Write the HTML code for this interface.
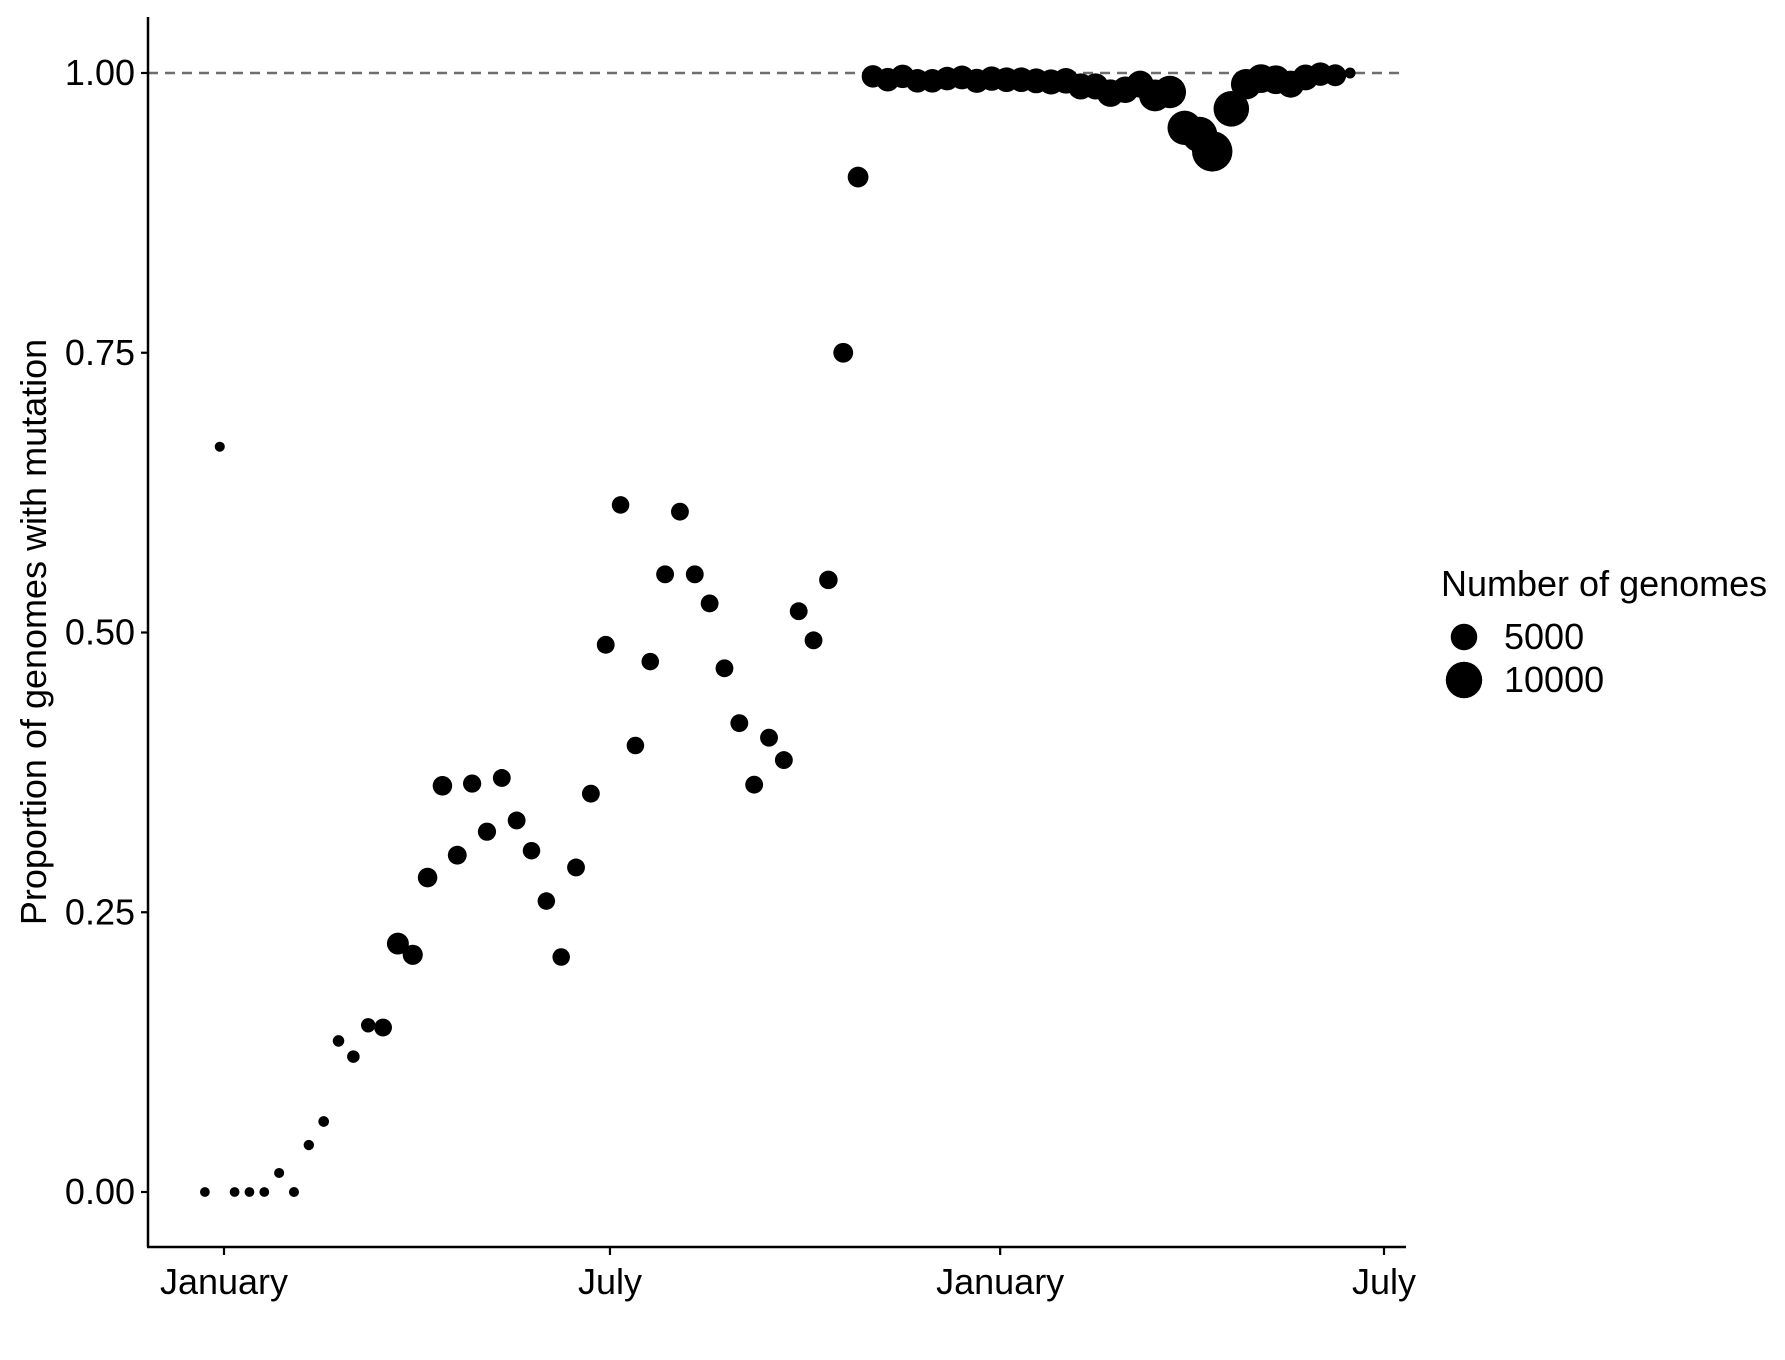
<!DOCTYPE html>
<html><head><meta charset="utf-8"><style>
body{margin:0;background:#fff;}
svg{display:block;font-family:"Liberation Sans",Arial,sans-serif;}
</style></head><body>
<svg id="chart" width="1785" height="1360" viewBox="0 0 1785 1360">
<g id="axes"></g>
<g id="marks"></g>
<g id="legend"></g>
</svg>
<script>
const days = [-9,-2,5,12,19,26,33,40,47,54,61,68,75,82,89,96,103,110,117,124,131,138,145,152,159,166,173,180,187,194,201,208,215,222,229,236,243,250,257,264,271,278,285,292,299,
306,313,320,327,334,341,348,355,362,369,376,383,390,397,404,411,418,425,432,439,446,453,460,466,475,482,489,496,503,510,517,524,531];
const props = [0,0.666,0,0,0,0.017,0,0.042,0.063,0.135,0.121,0.149,0.147,0.222,0.212,0.281,0.363,0.301,0.365,0.322,0.37,0.332,0.305,0.26,0.21,0.29,0.356,0.489,0.614,0.399,0.474,0.552,0.608,0.552,0.526,0.468,0.419,0.364,0.406,0.386,0.519,0.493,0.547,0.75,0.907,
0.997,0.994,0.997,0.993,0.993,0.995,0.996,0.993,0.995,0.994,0.994,0.993,0.992,0.993,0.988,0.988,0.982,0.985,0.99,0.98,0.983,0.951,0.945,0.93,0.968,0.99,0.995,0.994,0.99,0.996,0.999,0.998,1.0];
const counts = [100,150,100,100,100,150,150,200,250,400,600,1000,1900,3200,2600,2400,2400,2200,2000,2000,1900,1900,1800,1800,1800,1900,1900,1900,1800,1800,1800,1900,1900,1900,1900,1900,1900,1900,1900,1900,1900,1900,2100,2500,2800,
3400,3800,3800,3800,3800,3800,3900,4000,4100,4200,4200,4300,4400,4600,4800,4800,5400,5000,5200,7500,7800,8800,9500,12500,9500,6800,6000,6000,5200,4700,3800,3200,300];
const yTicks = [0,0.25,0.5,0.75,1];
const yTickLabels = ["0.00","0.25","0.50","0.75","1.00"];
const xTicks = [0,182,366,547];
const xTickLabels = ["January","July","January","July"];
const legendValues = [5000,10000];

const NS="http://www.w3.org/2000/svg";
const X0=148, X1=1406, Ytop=17, Ybot=1247;
function xs(d){return 224 + d*(1384-224)/547;}
function ys(v){return 1192 - v*(1192-73);}
function rs(n){return Math.sqrt(20.7 + 0.0311*n);}
function mk(tag,attrs,parent){const e=document.createElementNS(NS,tag);for(const k in attrs)e.setAttribute(k,attrs[k]);parent.appendChild(e);return e;}
const axes=document.getElementById('axes'), marks=document.getElementById('marks'), legend=document.getElementById('legend');

let l=mk('line',{x1:X0,y1:ys(1),x2:X1,y2:ys(1),stroke:'#6e6e6e','stroke-width':2.5,'stroke-dasharray':'10 7'},axes);


l=mk('line',{x1:X0,y1:Ytop,x2:X0,y2:Ybot,stroke:'#000','stroke-width':2.5},axes);


l=mk('line',{x1:X0-1,y1:Ybot,x2:X1,y2:Ybot,stroke:'#000','stroke-width':2.5},axes);


yTicks.forEach((v,i)=>{
  const t=mk('line',{x1:X0-7,y1:ys(v),x2:X0,y2:ys(v),stroke:'#000','stroke-width':2.2},axes);
  
  
  const tx=mk('text',{x:X0-13,y:ys(v)+12,'text-anchor':'end','font-size':36,fill:'#000'},axes);
  tx.textContent=yTickLabels[i];
  
  
});
xTicks.forEach((d,i)=>{
  const t=mk('line',{x1:xs(d),y1:Ybot,x2:xs(d),y2:Ybot+8,stroke:'#000','stroke-width':2.2},axes);
  
  
  const tx=mk('text',{x:xs(d),y:Ybot+47,'text-anchor':'middle','font-size':36,fill:'#000'},axes);
  tx.textContent=xTickLabels[i];
  
  
});
const yt=mk('text',{x:0,y:0,'text-anchor':'middle','font-size':36,fill:'#000',transform:'translate(46,632) rotate(-90)'},axes);
yt.textContent='Proportion of genomes with mutation';



days.forEach((d,i)=>{
  const c=mk('circle',{cx:xs(d),cy:ys(props[i]),r:rs(counts[i]),fill:'#000'},marks);
  
  
});

const lt=mk('text',{x:1441,y:596,'font-size':36,fill:'#000'},legend);
lt.textContent='Number of genomes';


legendValues.forEach((n,i)=>{
  const cy=637+i*43;
  const c=mk('circle',{cx:1464,cy:cy,r:rs(n),fill:'#000'},legend);
  
  
  const t=mk('text',{x:1504,y:cy+12,'font-size':36,fill:'#000'},legend);
  t.textContent=String(n);
  
  
});
</script>
</body></html>
